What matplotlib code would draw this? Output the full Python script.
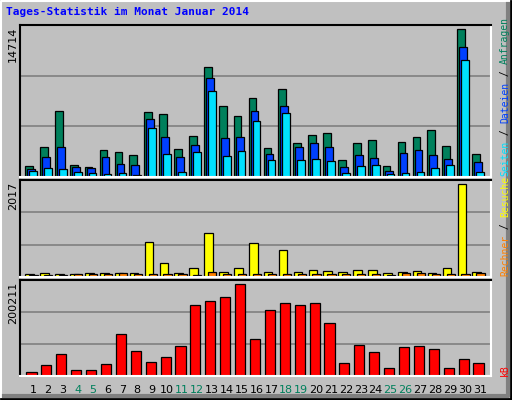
import matplotlib
matplotlib.use("Agg")
import matplotlib.pyplot as plt
from matplotlib.lines import Line2D
import numpy as np

days = list(range(1, 32))
weekend = [4, 5, 11, 12, 18, 19, 25, 26]
hits = [1100, 2940, 6435, 1200, 1000, 2650, 2460, 2170, 6340, 6145, 2750, 4010, 10610, 6920, 5950, 7600,
        2845, 8475, 3330, 4110, 4300, 1680, 3330, 3620, 1100, 3430, 3910, 4590, 3040, 14300, 2260]
files = [810, 1970, 2940, 1000, 905, 1970, 1290, 1200, 5660, 3910, 1970, 3140, 9540, 3815, 3910, 6435,
         2260, 6920, 2940, 3330, 2940, 1000, 2170, 1875, 615, 2360, 2650, 2170, 1780, 12550, 1490]
pages = [615, 905, 810, 520, 420, 320, 420, 225, 4790, 2260, 520, 2460, 8280, 2070, 2555, 5465,
         1680, 6240, 1680, 1780, 1585, 420, 1100, 1200, 320, 420, 520, 905, 1200, 11290, 520]
visits = [70, 90, 70, 70, 90, 90, 90, 90, 737, 300, 90, 195, 905, 110, 195, 716,
          110, 570, 110, 153, 130, 110, 153, 153, 90, 110, 130, 90, 195, 1927, 110]
hosts = [40, 40, 40, 70, 70, 70, 90, 70, 70, 70, 70, 40, 110, 70, 70, 70,
         70, 70, 70, 70, 70, 70, 70, 70, 40, 90, 90, 70, 70, 70, 90]
kbytes = [9130, 23900, 44960, 13350, 13350, 26000, 87100, 51280, 30200, 38640, 61820, 148200, 156660,
          165090, 192490, 76570, 137700, 152440, 148230, 152440, 110300, 28100, 63930, 49180, 17560,
          59710, 61820, 55500, 17560, 34420, 28100]
max_top, max_mid, max_bot = 14714, 2017, 200211

W, H = 512, 400
fig = plt.figure(figsize=(W / 100, H / 100), dpi=100, facecolor="#c0c0c0")

def ax_at(x0, y0, x1, y1):
    return fig.add_axes([x0 / W, 1 - y1 / H, (x1 - x0) / W, (y1 - y0) / H])

C_G, C_B, C_C = "#00805c", "#0040ff", "#00e0ff"
C_Y, C_O, C_R = "#ffff00", "#ff8000", "#ff0000"
d = np.array(days, dtype=float)
xl = (1 - 13 / 14.9, 31 + 11 / 14.9)

def style(ax, ymax):
    ax.set_facecolor("#c0c0c0")
    ax.set_xlim(*xl)
    ax.set_ylim(0, ymax)
    ax.set_yticks([ymax / 3, 2 * ymax / 3])
    ax.yaxis.grid(True, color="#808080", lw=1.2)
    ax.set_axisbelow(True)
    ax.tick_params(left=False, bottom=False, labelleft=False, labelbottom=False)
    for s in ["top", "left"]:
        ax.spines[s].set_color("black"); ax.spines[s].set_linewidth(1.5)
    for s in ["right", "bottom"]:
        ax.spines[s].set_color("white"); ax.spines[s].set_linewidth(1.5)

kw = dict(edgecolor="black", linewidth=0.9, align="center")
a1 = ax_at(20, 25, 491, 177)
style(a1, max_top)
a1.bar(d - 0.27, hits, 0.52, color=C_G, **kw)
a1.bar(d - 0.13, files, 0.52, color=C_B, **kw)
a1.bar(d + 0.0, pages, 0.52, color=C_C, **kw)

a2 = ax_at(20, 180, 491, 277)
style(a2, max_mid)
a2.bar(d - 0.22, visits, 0.58, color=C_Y, **kw)
a2.bar(d + 0.03, hosts, 0.55, color=C_O, **kw)

a3 = ax_at(20, 280, 491, 376)
style(a3, max_bot)
a3.bar(d - 0.1, kbytes, 0.68, color=C_R, **kw)
a3.set_xticks(days)
a3.set_xticklabels([str(x) for x in days])
a3.tick_params(labelbottom=True, labelsize=8, pad=3)
for lab, dd in zip(a3.get_xticklabels(), days):
    lab.set_color(C_G if dd in weekend else "black")

fig.text(6 / W, 1 - 15 / H, "Tages-Statistik im Monat Januar 2014", color="#0000ff",
         family="DejaVu Sans Mono", weight="bold", fontsize=8)

for y0, lab in [(25, str(max_top)), (180, str(max_mid)), (280, str(max_bot))]:
    fig.text(13 / W, 1 - (y0 + 2) / H, lab, rotation=90, va="top", ha="center", fontsize=8)

fig.canvas.draw()
renderer = fig.canvas.get_renderer()

def vlabel(ybottom, parts):
    ypix = H - ybottom  # display coords from bottom
    for s, c in parts:
        t = fig.text(505 / W, ypix / H, s, rotation=90, va="bottom", ha="center",
                     color=c, family="DejaVu Sans Mono", fontsize=7)
        ext = t.get_window_extent(renderer)
        ypix += ext.height if s.strip() else 7 * 0.602 * len(s) * 100 / 72

vlabel(176, [("Seiten", C_C), (" / ", "black"), ("Dateien", C_B), (" / ", "black"), ("Anfragen", C_G)])
vlabel(276, [("Rechner", C_O), (" / ", "black"), ("Besuche", C_Y)])
vlabel(376, [("kB", C_R)])

# 3D frame
fig.add_artist(Line2D([1 / W, 1 / W, 1 - 1 / W], [1 / H, 1 - 1 / H, 1 - 1 / H], color="white", lw=1.5))
fig.add_artist(Line2D([0.5 / W, 1 - 1 / W, 1 - 1 / W], [1 / H, 1 / H, 1 - 1 / H], color="black", lw=2))
fig.add_artist(Line2D([4 / W, 1 - 4 / W, 1 - 4 / W], [4 / H, 4 / H, 1 - 4 / H], color="#808080", lw=3))

fig.savefig("out.png", dpi=100, facecolor=fig.get_facecolor())
